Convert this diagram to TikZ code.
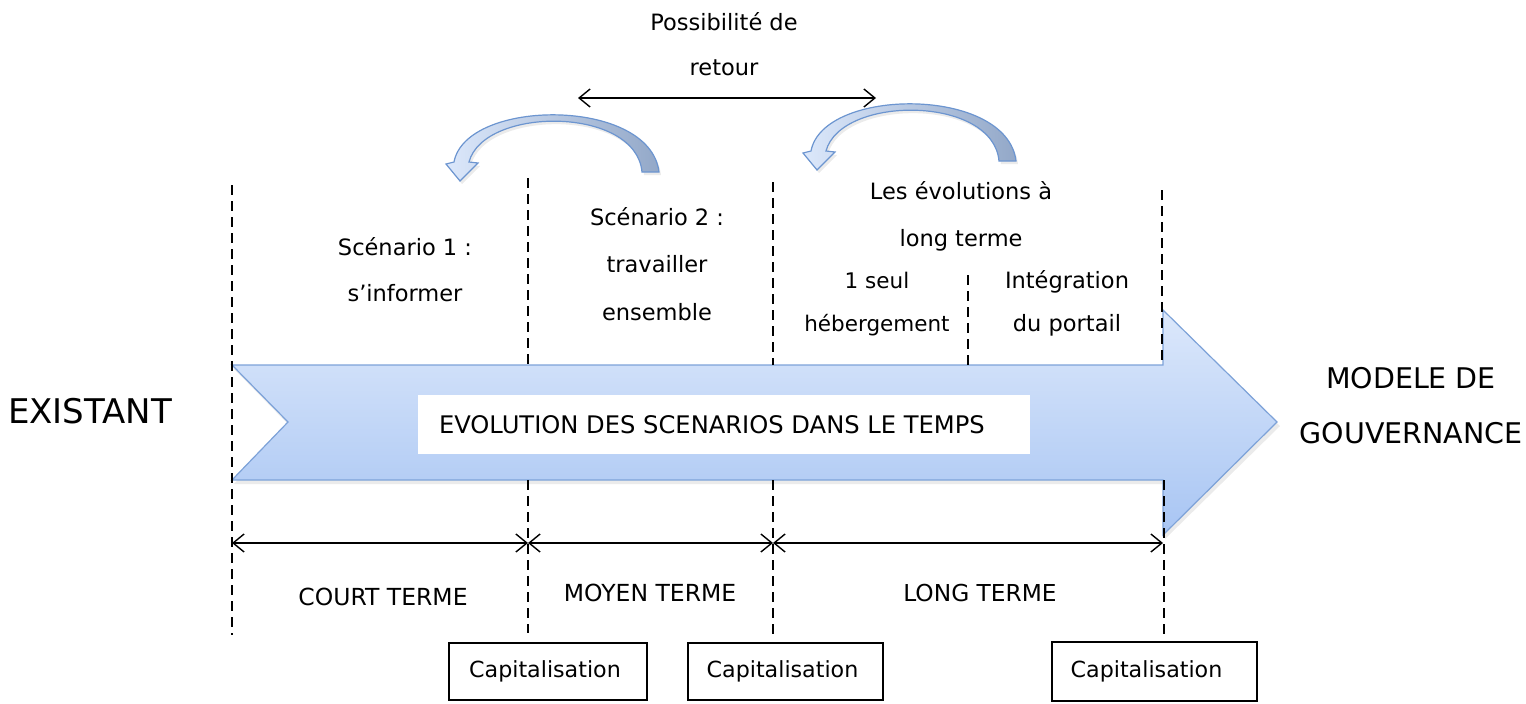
\documentclass[tikz,border=0pt]{standalone}
\usepackage{fontspec}
\setmainfont{DejaVu Sans}
\usetikzlibrary{arrows.meta}
\definecolor{arrowtop}{HTML}{DCE8FB}
\definecolor{arrowbot}{HTML}{A8C5F3}
\definecolor{arrowedge}{HTML}{7DA2D8}
\definecolor{curvelight}{HTML}{DCE8FB}
\definecolor{curvedark}{HTML}{93A8C8}
\definecolor{curveedge}{HTML}{6C95D0}
\begin{document}
\begin{tikzpicture}[x=1pt,y=-1pt,
  txt/.style={inner sep=0pt, align=center, font=\fontsize{22}{46}\selectfont},
  guide/.style={dash pattern=on 10pt off 6pt, line width=1.6pt},
  span/.style={line width=1.4pt, {Straight Barb[length=11pt,width=18pt]}-{Straight Barb[length=11pt,width=18pt]}},
  capbox/.style={draw, line width=1.8pt, inner sep=0pt, font=\fontsize{22.2}{24}\selectfont},
  bigarrow/.style={top color=arrowtop, bottom color=arrowbot, draw=arrowedge, line width=1.2pt},
  curvearrow/.style={left color=curvelight, right color=curvedark, draw=curveedge, line width=1.2pt},
  softshadow/.style={fill=black!8},
  ]
\useasboundingbox (0,0) rectangle (1526,704);

% shadow and big arrow
\path[softshadow] (234,369) -- (1165,369) -- (1165,314) -- (1280,426) -- (1165,539) -- (1165,484) -- (234,484) -- (290,426) -- cycle;
\path[bigarrow] (232,365) -- (1163,365) -- (1163,310) -- (1277,422) -- (1163,535) -- (1163,480) -- (232,480) -- (288,422) -- cycle;

\node[fill=white, minimum width=612pt, minimum height=59pt, inner sep=0pt] (band) at (724,424.5) {};
\node[anchor=west, inner sep=0pt, font=\fontsize{24.2}{26}\selectfont] (bandtext) at ([xshift=21pt]band.west) {EVOLUTION DES SCENARIOS DANS LE TEMPS};

% curved arrows
\begin{scope}[shift={(2,3)}]
\path[softshadow] (460,181) -- (446,164) -- (454,162) .. controls (466,98) and (650,97) .. (659,172) -- (642,172) .. controls (636,106) and (484,106) .. (469,162) -- (478,163) -- cycle;
\end{scope}
\path[curvearrow] (460,181) -- (446,164) -- (454,162) .. controls (466,98) and (650,97) .. (659,172) -- (642,172) .. controls (636,106) and (484,106) .. (469,162) -- (478,163) -- cycle;
\begin{scope}[shift={(359,-8)}]
\path[softshadow] (460,181) -- (446,164) -- (454,162) .. controls (466,98) and (650,97) .. (659,172) -- (642,172) .. controls (636,106) and (484,106) .. (469,162) -- (478,163) -- cycle;
\end{scope}
\begin{scope}[shift={(357,-11)}]
\path[curvearrow] (460,181) -- (446,164) -- (454,162) .. controls (466,98) and (650,97) .. (659,172) -- (642,172) .. controls (636,106) and (484,106) .. (469,162) -- (478,163) -- cycle;
\end{scope}

% guides
\coordinate (g0t) at (232,185); \coordinate (g0b) at (232,635);
\coordinate (g1t) at (528,178); \coordinate (g1m) at (528,365);
\coordinate (g1n) at (528,480); \coordinate (g1b) at (528,633);
\coordinate (g2t) at (773,182); \coordinate (g2m) at (773,365);
\coordinate (g2n) at (773,480); \coordinate (g2b) at (773,640);
\coordinate (g3t) at (968,275); \coordinate (g3b) at (968,368);
\coordinate (g4t) at (1162,190); \coordinate (g4m) at (1162,366);
\coordinate (g4n) at (1164,480); \coordinate (g4b) at (1164,636);
\draw[guide] (g0t) -- (g0b);
\draw[guide] (g1t) -- (g1m);
\draw[guide] (g1n) -- (g1b);
\draw[guide] (g2t) -- (g2m);
\draw[guide] (g2n) -- (g2b);
\draw[guide] (g3t) -- (g3b);
\draw[guide] (g4t) -- (g4m);
\draw[guide] (g4n) -- (g4b);

% spans
\coordinate (s0) at (232,543); \coordinate (s1) at (528,543);
\coordinate (s2) at (773,543); \coordinate (s3) at (1163,543);
\draw[span] (s0) -- (s1);
\draw[span] (s1) -- (s2);
\draw[span] (s2) -- (s3);
\coordinate (r0) at (578,98); \coordinate (r1) at (876,98);
\draw[span] (r0) -- (r1);

% texts
\node[txt, font=\fontsize{22.5}{45}\selectfont] (poss) at (724,44) {Possibilité de\\retour};
\node[txt, font=\fontsize{22.5}{46}\selectfont] (sc1) at (405,270) {Scénario 1 :\\s’informer};
\node[txt, font=\fontsize{22.5}{47.5}\selectfont] (sc2) at (657,264) {Scénario 2 :\\travailler\\ensemble};
\node[txt, font=\fontsize{22.5}{47}\selectfont] (evo) at (961,216) {Les évolutions à\\long terme};
\node[txt, font=\fontsize{21.5}{43}\selectfont] (seul) at (877,304) {1 seul\\hébergement};
\node[txt, font=\fontsize{22.5}{43}\selectfont] (integ) at (1067,303.5) {Intégration\\du portail};
\node[txt, font=\fontsize{34}{40}\selectfont] (exist) at (90,411) {EXISTANT};
\node[txt, font=\fontsize{28.5}{55}\selectfont] (modele) at (1411,405.5) {MODELE DE\\GOUVERNANCE};
\node[txt, font=\fontsize{23.5}{26}\selectfont] (court) at (383,597) {COURT TERME};
\node[txt, font=\fontsize{23.5}{26}\selectfont] (moyen) at (650,593) {MOYEN TERME};
\node[txt, font=\fontsize{23.3}{26}\selectfont] (long) at (980,593) {LONG TERME};

% capitalisation boxes
\node[capbox, minimum width=198pt, minimum height=57pt] (cap1) at (548,671.5) {\hspace*{-6pt}Capitalisation};
\node[capbox, minimum width=195pt, minimum height=57pt] (cap2) at (785.5,671.5) {\hspace*{-6pt}Capitalisation};
\node[capbox, minimum width=205pt, minimum height=59pt] (cap3) at (1154.5,671.5) {\hspace*{-16pt}Capitalisation};
\end{tikzpicture}
\end{document}
